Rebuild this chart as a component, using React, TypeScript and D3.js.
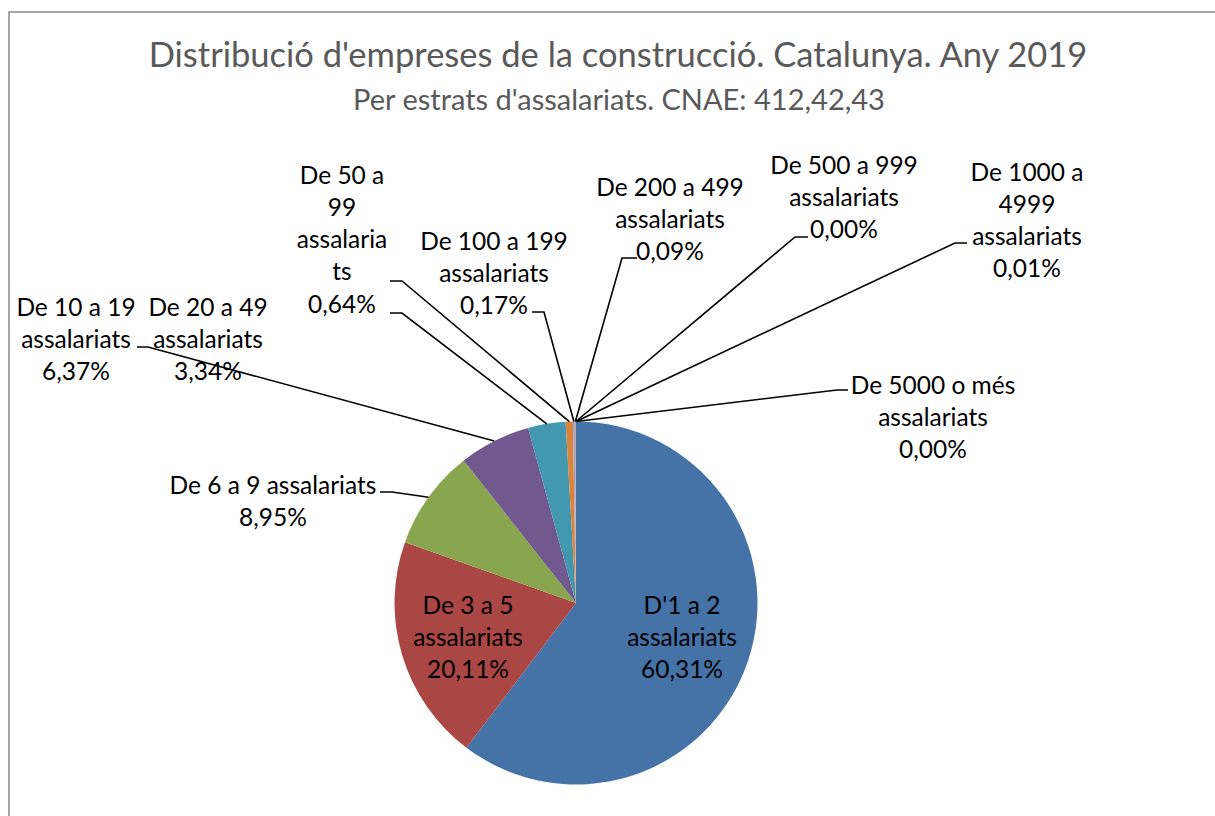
import React from "react";
import * as d3 from "d3";

const categories = [
  "D'1 a 2 assalariats",
  "De 3 a 5 assalariats",
  "De 6 a 9 assalariats",
  "De 10 a 19 assalariats",
  "De 20 a 49 assalariats",
  "De 50 a 99 assalariats",
  "De 100 a 199 assalariats",
  "De 200 a 499 assalariats",
  "De 500 a 999 assalariats",
  "De 1000 a 4999 assalariats",
  "De 5000 o més assalariats",
];
const values = [60.31, 20.11, 8.95, 6.37, 3.34, 0.64, 0.17, 0.09, 0.0, 0.01, 0.0];
const labelLines = [
  ["D'1 a 2", "assalariats"],
  ["De 3 a 5", "assalariats"],
  ["De 6 a 9 assalariats"],
  ["De 10 a 19", "assalariats"],
  ["De 20 a 49", "assalariats"],
  ["De 50 a", "99", "assalaria", "ts"],
  ["De 100 a 199", "assalariats"],
  ["De 200 a 499", "assalariats"],
  ["De 500 a 999", "assalariats"],
  ["De 1000 a", "4999", "assalariats"],
  ["De 5000 o més", "assalariats"],
];
const title = "Distribució d'empreses de la construcció. Catalunya. Any 2019";
const subtitle = "Per estrats d'assalariats. CNAE: 412,42,43";

const colors = [
  "#4572A7", "#AA4643", "#89A54E", "#71588F", "#4198AF", "#DB843D",
  "#93A9CF", "#D19392", "#B9CD96", "#A99BBD", "#8EA5CB",
];

// layout: label center x, first line center y, leader start & elbow x, leader y
type Lay = { x: number; y: number; leader?: [number, number, number] };
const layout: Lay[] = [
  { x: 682, y: 605 },
  { x: 468, y: 605 },
  { x: 273, y: 485, leader: [380, 392, 492] },
  { x: 76, y: 307, leader: [137, 148, 347] },
  { x: 208, y: 307, leader: [390, 402, 313] },
  { x: 342, y: 175, leader: [390, 402, 281] },
  { x: 494, y: 241, leader: [532, 544, 312] },
  { x: 670, y: 187, leader: [637, 622, 258] },
  { x: 844, y: 165, leader: [808, 795, 237] },
  { x: 1027, y: 172, leader: [967, 955, 243] },
  { x: 933, y: 385, leader: [848, 837, 390] },
];

const W = 1215;
const H = 816;
const cx = 576;
const cy = 603;
const R = 181.5;
const lineGap = 32.3;
const FONT = "Lato, 'Open Sans', sans-serif";

export default function App() {
  const pie = d3.pie<number>().sort(null).value((d) => d)(values);
  const arc = d3.arc<d3.PieArcDatum<number>>().innerRadius(0).outerRadius(R);
  const edge = d3.arc<d3.PieArcDatum<number>>().innerRadius(R).outerRadius(R);
  const fmt = (v: number) => v.toFixed(2).replace(".", ",") + "%";

  return (
    <svg
      width={W}
      height={H}
      style={{ position: "absolute", left: 0, top: 0, display: "block", background: "#fff" }}
      fontFamily={FONT}
    >
      <rect x={9} y={12} width={W + 20} height={H + 20} fill="#fff" stroke="#898989" strokeWidth={1.5} />
      <text x={618} y={55} dy="0.35em" textAnchor="middle" fontSize={34.5} fill="#595959">
        {title}
      </text>
      <text x={619} y={100} dy="0.35em" textAnchor="middle" fontSize={29} fill="#595959">
        {subtitle}
      </text>
      <g transform={`translate(${cx},${cy})`}>
        {pie.map((p, i) => (
          <path key={categories[i]} d={arc(p) || ""} fill={colors[i]} />
        ))}
      </g>
      {pie.map((p, i) => {
        const L = layout[i];
        if (!L.leader) return null;
        const c = edge.centroid(p);
        const [sx, ex, ly] = L.leader;
        return (
          <polyline
            key={"l" + i}
            points={`${sx},${ly} ${ex},${ly} ${cx + c[0]},${cy + c[1]}`}
            fill="none"
            stroke="#000"
            strokeWidth={1.6}
          />
        );
      })}
      {pie.map((p, i) => {
        const L = layout[i];
        const lines = [...labelLines[i], fmt(values[i])];
        return (
          <text key={"t" + i} textAnchor="middle" fontSize={24.5} fill="#000">
            {lines.map((s, j) => (
              <tspan key={j} x={L.x} y={L.y + j * lineGap} dy="0.35em">
                {s}
              </tspan>
            ))}
          </text>
        );
      })}
    </svg>
  );
}
